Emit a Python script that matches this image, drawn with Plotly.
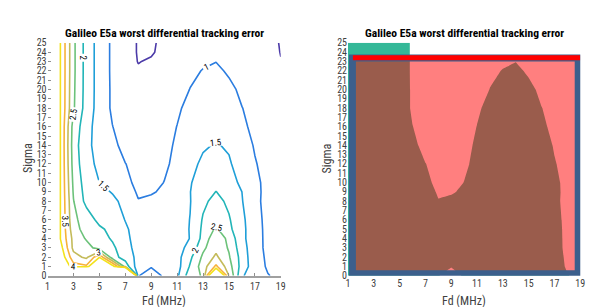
import plotly.graph_objects as go

# ---------------- data ----------------
fd_mhz = list(range(1, 20))
sigma = [0, 1, 2, 3, 4, 5, 6, 8, 9, 10, 12, 14, 16, 18, 20, 22, 23, 24, 25]

err_s0 = [20, 20, 20, 20, 20, 20, 20, 1.03, 0.6, 1.1, 1.4, 2.3, 2.55, 6.0, 3.0, 1.55, 1.25, 1.02, 0.9]
err_s1 = [8.0, 4.8, 3.7, 3.6, 6.0, 4.3, 2.3, 1.2, 1.05, 1.15, 1.3, 2.05, 2.75, 3.6, 2.7, 1.8, 1.2, 0.95, 0.86]
err_s2 = [7.0, 4.4, 3.19, 2.9, 3.95, 2.2, 1.8, 1.35, 1.28, 1.25, 1.32, 1.9, 2.6, 3.1, 2.55, 1.8, 1.15, 0.94, 0.85]
err_s3 = [6.5, 4.2, 2.87, 2.7, 2.3, 2.1, 1.7, 1.3, 1.28, 1.25, 1.38, 1.6, 2.4, 2.85, 2.45, 1.7, 1.2, 0.88, 0.78]
err_s4 = [6.0, 3.98, 2.85, 2.45, 2.2, 1.95, 1.6, 1.33, 1.28, 1.25, 1.35, 1.51, 2.15, 2.9, 2.35, 1.62, 1.22, 0.86, 0.77]
err_s5 = [6.0, 3.98, 2.7, 2.3, 2.1, 1.85, 1.55, 1.35, 1.25, 1.22, 1.3, 1.52, 2.1, 2.58, 2.12, 1.62, 1.22, 0.85, 0.76]
err_s6 = [6.0, 3.98, 2.6, 2.3, 1.85, 1.7, 1.49, 1.3, 1.2, 1.2, 1.3, 1.51, 2.05, 2.4, 2.05, 1.6, 1.2, 0.84, 0.75]
err_s8 = [6.0, 3.98, 2.52, 1.85, 1.75, 1.62, 1.35, 1.02, 1.16, 1.2, 1.35, 1.48, 1.9, 2.15, 1.9, 1.52, 1.2, 0.75, 0.7]
err_s9 = [6.0, 3.98, 2.45, 1.8, 1.65, 1.47, 1.2, 0.95, 0.93, 1.12, 1.3, 1.49, 1.8, 2.01, 1.82, 1.5, 1.18, 0.8, 0.78]
err_s10 = [6.0, 3.98, 2.4, 1.75, 1.5, 1.3, 1.12, 0.88, 0.85, 1.01, 1.25, 1.47, 1.7, 1.85, 1.7, 1.4, 1.12, 0.85, 0.75]
err_s12 = [6.0, 3.98, 2.3, 1.65, 1.4, 1.22, 1.01, 0.85, 0.82, 0.9, 1.15, 1.38, 1.58, 1.68, 1.55, 1.3, 1.04, 0.8, 0.72]
err_s14 = [6.0, 3.98, 2.25, 1.6, 1.35, 1.12, 0.85, 0.78, 0.8, 0.85, 1.08, 1.3, 1.45, 1.53, 1.45, 1.28, 0.95, 0.8, 0.7]
err_s16 = [6.0, 3.98, 2.3, 1.7, 1.25, 1.01, 0.8, 0.72, 0.74, 0.8, 1.01, 1.2, 1.33, 1.4, 1.32, 1.12, 0.85, 0.76, 0.66]
err_s18 = [6.0, 3.98, 2.56, 1.78, 1.3, 0.93, 0.72, 0.66, 0.7, 0.78, 0.92, 1.15, 1.25, 1.32, 1.22, 1.01, 0.85, 0.74, 0.64]
err_s20 = [6.0, 3.98, 2.58, 1.8, 1.3, 0.93, 0.68, 0.6, 0.64, 0.72, 0.8, 1.01, 1.15, 1.22, 1.12, 0.9, 0.8, 0.7, 0.6]
err_s22 = [6.0, 3.98, 2.6, 1.8, 1.3, 0.92, 0.64, 0.53, 0.58, 0.68, 0.8, 0.9, 1.02, 1.1, 0.93, 0.84, 0.76, 0.68, 0.56]
err_s23 = [6.0, 3.98, 2.6, 1.8, 1.3, 0.92, 0.63, 0.49, 0.53, 0.62, 0.74, 0.84, 0.93, 0.99, 0.93, 0.84, 0.74, 0.66, 0.51]
err_s24 = [6.0, 3.98, 2.6, 1.8, 1.3, 0.92, 0.62, 0.48, 0.47, 0.58, 0.68, 0.76, 0.84, 0.9, 0.86, 0.78, 0.7, 0.62, 0.49]
err_s25 = [6.0, 3.98, 2.6, 1.8, 1.3, 0.92, 0.62, 0.48, 0.45, 0.58, 0.66, 0.72, 0.78, 0.82, 0.78, 0.72, 0.66, 0.6, 0.48]

error_grid = [err_s0, err_s1, err_s2, err_s3, err_s4, err_s5, err_s6, err_s8, err_s9,
              err_s10, err_s12, err_s14, err_s16, err_s18, err_s20, err_s22, err_s23,
              err_s24, err_s25]

contour_levels = [0.5, 1.0, 1.5, 2.0, 2.5, 3.0, 3.5, 4.0]
level_colors = ["#4b3aa8", "#2b7de0", "#1f9fd8", "#22b5b8", "#6cc27a", "#c4bb5a", "#f7b23a", "#f3e21c"]
threshold = 1.0

x_ticks = [1, 3, 5, 7, 9, 11, 13, 15, 17, 19]
y_ticks = list(range(0, 26))
title_text = "Galileo E5a worst differential tracking error"

# ---------------- figure ----------------
FONT = "Roboto Condensed, Liberation Sans, Arial, sans-serif"
TICK_COL = "#404040"

lo, hi = contour_levels[0], contour_levels[-1]
cscale = [[(lv - lo) / (hi - lo), c] for lv, c in zip(contour_levels, level_colors)]

fig = go.Figure()

fig.add_trace(go.Contour(
    x=fd_mhz, y=sigma, z=error_grid,
    xaxis="x", yaxis="y",
    colorscale=cscale, zauto=False, zmin=lo, zmax=hi,
    autocontour=False,
    contours=dict(start=lo, end=hi, size=0.5, coloring="lines",
                  showlabels=True, labelfont=dict(size=9, color="black", family=FONT)),
    line=dict(width=1.6, smoothing=0),
    showscale=False, hoverinfo="skip",
))

fig.add_trace(go.Contour(
    x=fd_mhz, y=sigma, z=error_grid,
    xaxis="x2", yaxis="y2",
    contours=dict(type="constraint", operation="<", value=threshold),
    fillcolor="rgb(52,184,152)",
    line=dict(width=0, smoothing=0),
    showscale=False, hoverinfo="skip", showlegend=False,
))

xd1 = [38 / 600, 274 / 600]
xd2 = [342 / 600, 577 / 600]
yd = [1 - 272.5 / 307, 1 - 30 / 307]

axis_common = dict(
    tickfont=dict(family=FONT, size=10, color=TICK_COL),
    showgrid=False, zeroline=False,
)
fig.update_layout(
    width=600, height=307, autosize=False,
    margin=dict(l=0, r=0, t=0, b=0),
    paper_bgcolor="white", plot_bgcolor="white",
    showlegend=False,
    xaxis=dict(domain=xd1, range=[1, 19], tickvals=x_ticks, ticks="inside", ticklen=3,
               tickcolor="#909090", showline=True, linecolor="#a0a0a0", linewidth=1.5,
               anchor="y", **axis_common),
    yaxis=dict(domain=yd, range=[0, 25], tickvals=y_ticks, ticks="inside", ticklen=3,
               tickcolor="#909090", showline=False, anchor="x", **axis_common),
    xaxis2=dict(domain=xd2, range=[1, 19], tickvals=x_ticks, ticks="", showline=False,
                anchor="y2", **axis_common),
    yaxis2=dict(domain=yd, range=[0, 25], tickvals=y_ticks, ticks="", showline=False,
                anchor="x2", **axis_common),
)

# overlay rectangle and red top line on right panel
fig.add_shape(type="rect", xref="x2", yref="y2", x0=1.34, x1=18.84, y0=0.22, y1=23.38,
              fillcolor="rgba(255,0,0,0.5)", line=dict(color="#3c5f8c", width=7), layer="above")
fig.add_shape(type="line", xref="x2", yref="y2", x0=1.38, x1=19.0, y0=23.4, y1=23.4,
              line=dict(color="#ff0000", width=5), layer="above")

ann = []
for dom in (xd1, xd2):
    cx = (dom[0] + dom[1]) / 2
    ann.append(dict(text="<b>" + title_text + "</b>", x=cx, y=1 - 20 / 307, xref="paper", yref="paper",
                    xanchor="center", yanchor="middle", showarrow=False,
                    font=dict(family=FONT, size=11.5, color="black")))
    ann.append(dict(text="Fd (MHz)", x=cx, y=1 - 299 / 307, xref="paper", yref="paper",
                    xanchor="center", yanchor="middle", showarrow=False,
                    font=dict(family=FONT, size=12, color=TICK_COL)))
for px in (18, 321):
    ann.append(dict(text="Sigma", x=px / 600, y=1 - 150 / 307, xref="paper", yref="paper",
                    xanchor="center", yanchor="middle", showarrow=False, textangle=-90,
                    font=dict(family=FONT, size=12, color=TICK_COL)))
fig.update_layout(annotations=ann)

fig.write_html("out.html")
